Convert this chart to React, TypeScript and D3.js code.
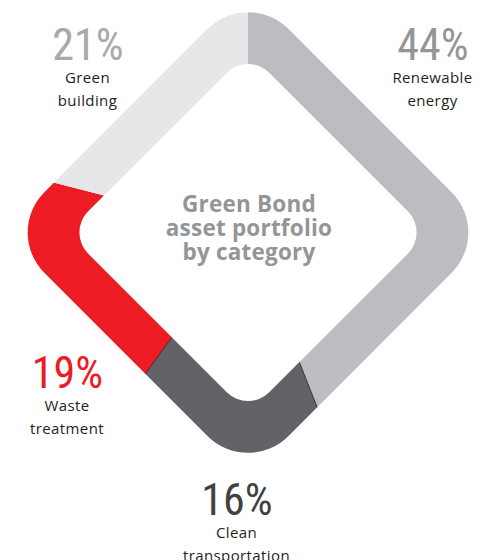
import React from "react";
import * as d3 from "d3";

const categories = ["Renewable energy", "Clean transportation", "Waste treatment", "Green building"];
const values = [44, 16, 19, 21];
const percentLabels = ["44%", "16%", "19%", "21%"];
const labelLines = [["Renewable", "energy"], ["Clean", "transportation"], ["Waste", "treatment"], ["Green", "building"]];
const segmentColors = ["#bcbdc0", "#626366", "#ed1c24", "#e6e7e8"];
const percentColors = ["#939598", "#414042", "#ed1c24", "#a7a9ac"];
const titleLines = ["Green Bond", "asset portfolio", "by category"];

const W = 486;
const H = 560;
const cx = 248;
const cy = 232.5;
const outerHalf = 172.5;
const outerR = 57;
const innerHalf = 128;
const innerR = 30;

// label anchor positions (layout)
const labelPos = [
  { x: 433, y: 60 },
  { x: 237, y: 515 },
  { x: 67.5, y: 388 },
  { x: 88, y: 60 },
];

export default function App() {
  const pie = d3.pie<number>().sort(null).value((d) => d);
  const arcs = pie(values);
  const wedge = d3.arc<d3.PieArcDatum<number>>().innerRadius(0).outerRadius(420);
  const boundaryAngles = [arcs[0].endAngle, arcs[1].endAngle];
  const fontPct = "'Liberation Sans Narrow', 'Roboto Condensed', 'Roboto', sans-serif";
  const fontLbl = "'Open Sans', 'Lato', sans-serif";

  return (
    <svg width={W} height={H} style={{ position: "absolute", left: 0, top: 0, background: "#fff" }}>
      <defs>
        {arcs.map((a, i) => (
          <clipPath id={`wedge-${i}`} key={i}>
            <path d={wedge(a) || ""} transform={`translate(${cx},${cy})`} />
          </clipPath>
        ))}
        <clipPath id="outer-clip">
          <rect
            x={-outerHalf}
            y={-outerHalf}
            width={outerHalf * 2}
            height={outerHalf * 2}
            rx={outerR}
            transform={`translate(${cx},${cy}) rotate(45)`}
          />
        </clipPath>
      </defs>
      {arcs.map((a, i) => (
        <g clipPath={`url(#wedge-${i})`} key={categories[i]}>
          <rect
            x={-outerHalf}
            y={-outerHalf}
            width={outerHalf * 2}
            height={outerHalf * 2}
            rx={outerR}
            fill={segmentColors[i]}
            transform={`translate(${cx},${cy}) rotate(45)`}
          />
        </g>
      ))}
      <g clipPath="url(#outer-clip)">
        {boundaryAngles.map((ang, i) => (
          <line
            key={i}
            x1={cx}
            y1={cy}
            x2={cx + 420 * Math.sin(ang)}
            y2={cy - 420 * Math.cos(ang)}
            stroke="#1d1d1f"
            strokeWidth={0.8}
          />
        ))}
      </g>
      <rect
        x={-innerHalf}
        y={-innerHalf}
        width={innerHalf * 2}
        height={innerHalf * 2}
        rx={innerR}
        fill="#ffffff"
        transform={`translate(${cx},${cy}) rotate(45)`}
      />
      <g fontFamily="'Open Sans', 'Lato', sans-serif" fontWeight={700} fontSize={22.5} letterSpacing={0.2} fill="#939598" textAnchor="middle">
        {titleLines.map((t, i) => (
          <text key={t} x={cx + 1} y={211.5 + i * 24}>
            {t}
          </text>
        ))}
      </g>
      {labelPos.map((p, i) => (
        <g key={categories[i]} textAnchor="middle">
          <text x={p.x} y={p.y} fontFamily={fontPct} fontWeight={400} fontSize={44} fill={percentColors[i]}>
            {percentLabels[i]}
          </text>
          {labelLines[i].map((l, j) => (
            <text key={l} x={p.x - 0.5} y={p.y + 22.5 + j * 23.5} fontFamily={fontLbl} fontWeight={400} fontSize={15} letterSpacing={0.4} fill="#231f20">
              {l}
            </text>
          ))}
        </g>
      ))}
    </svg>
  );
}
